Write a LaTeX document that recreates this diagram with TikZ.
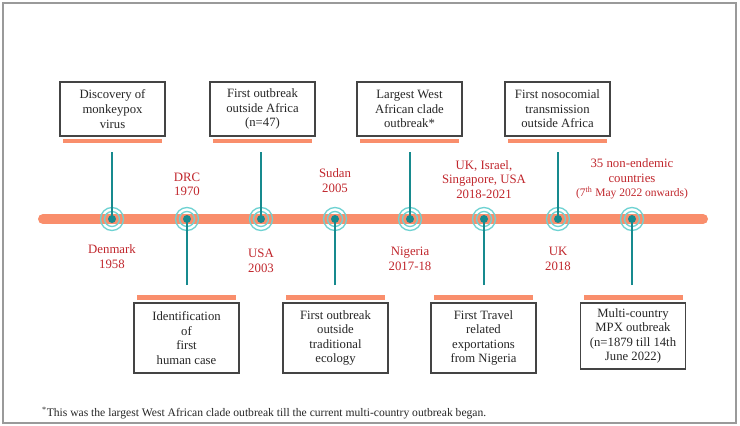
\documentclass[tikz,border=0pt]{standalone}
\usepackage{fontspec}
\usetikzlibrary{calc}
\setmainfont{Liberation Serif}
\definecolor{barorange}{HTML}{F98E6C}
\definecolor{stemteal}{HTML}{178A8E}
\definecolor{ringcyan}{HTML}{6ED2D2}
\definecolor{labred}{HTML}{C1272D}
\definecolor{framegray}{HTML}{9A9A9A}
\definecolor{boxgray}{HTML}{444444}
\tikzset{
  evbox/.style={draw=boxgray, line width=1.1pt, fill=white, align=center, inner sep=2pt,
    minimum width=105pt, font=\fontsize{12.7}{14.6}\selectfont, text=black!85},
  topbox/.style={evbox, minimum height=54pt},
  botbox/.style={evbox, minimum height=70pt},
  obar/.style={fill=barorange, draw=none, minimum width=99pt, minimum height=4.5pt, inner sep=0pt},
  stemline/.style={draw=stemteal, line width=2.5pt},
  dotnode/.style={circle, fill=stemteal, minimum size=8pt, inner sep=0pt},
  ringa/.style={draw=ringcyan, line width=1.3pt},
  place/.style={text=labred, align=center, font=\fontsize{12.8}{14.5}\selectfont},
}
\begin{document}
\begin{tikzpicture}[x=1pt,y=-1pt]
\useasboundingbox (0,0) rectangle (740,426);
\fill[white] (0,0) rectangle (740,426);
\draw[framegray, line width=1.2pt] (3,3) rectangle (736,423);
% main bar
\draw[barorange, line width=10pt, line cap=round] (43,219) -- (703,219);
% event positions
\foreach \i/\x in {1/112,2/187,3/261,4/335,5/410,6/484,7/558,8/632}{
  \draw[ringa] (\x,219) circle (7.5);
  \draw[ringa] (\x,219) circle (11.5);
  \node[dotnode] (d\i) at (\x,219) {};
}
% top events
\foreach \i/\x in {1/112.5,3/262.5,5/409.5,7/557.5}{
  \node[obar] (b\i) at (\x,141) {};
  \coordinate (s\i) at ($(d\i.center)+(0,-67)$);
}
\foreach \i/\x in {2/186.5,4/335.5,6/483.5,8/633}{
  \node[obar] (b\i) at (\x,297.5) {};
  \coordinate (s\i) at ($(d\i.center)+(0,66)$);
}
\foreach \i in {1,...,8}{ \draw[stemline] (s\i) -- (d\i.center); }
\node[topbox] (t1) at (112.5,109) {Discovery of\\monkeypox\\virus};
\node[topbox] (t3) at (262.5,109) {First outbreak\\outside Africa\\(n=47)};
\node[topbox] (t5) at (409.5,109) {Largest West\\African clade\\outbreak*};
\node[topbox] (t7) at (557.5,109) {First nosocomial\\transmission\\outside Africa};
\node[botbox] (t2) at (186.5,338) {Identification\\of\\first\\human case};
\node[botbox] (t4) at (335.5,338) {First outbreak\\outside\\traditional\\ecology};
\node[botbox] (t6) at (483.5,338) {First Travel\\related\\exportations\\from Nigeria};
\node[botbox, minimum height=66pt] (t8) at (633,336) {Multi-country\\MPX outbreak\\(n=1879 till 14th\\June 2022)};
% place labels
\node[place] (p2) at (187,184.5) {DRC\\1970};
\node[place] (p4) at (335,180.5) {Sudan\\2005};
\node[place] (p6) at (484,179.5) {UK, Israel,\\Singapore, USA\\2018-2021};
\node[place, align=center] (p8) at (632,179) {35 non-endemic\\countries\\{\fontsize{11.5}{13}\selectfont(7\textsuperscript{th} May 2022 onwards)}};
\node[place] (p1) at (112,256.5) {Denmark\\1958};
\node[place] (p3) at (261,261) {USA\\2003};
\node[place] (p5) at (410,259) {Nigeria\\2017-18};
\node[place] (p7) at (558,259) {UK\\2018};
% footnote
\node[anchor=west, font=\fontsize{11.6}{13}\selectfont, text=black!85, inner sep=0pt] (fn) at (42,413) {\textsuperscript{*}This was the largest West African clade outbreak till the current multi-country outbreak began.};
\end{tikzpicture}
\end{document}
